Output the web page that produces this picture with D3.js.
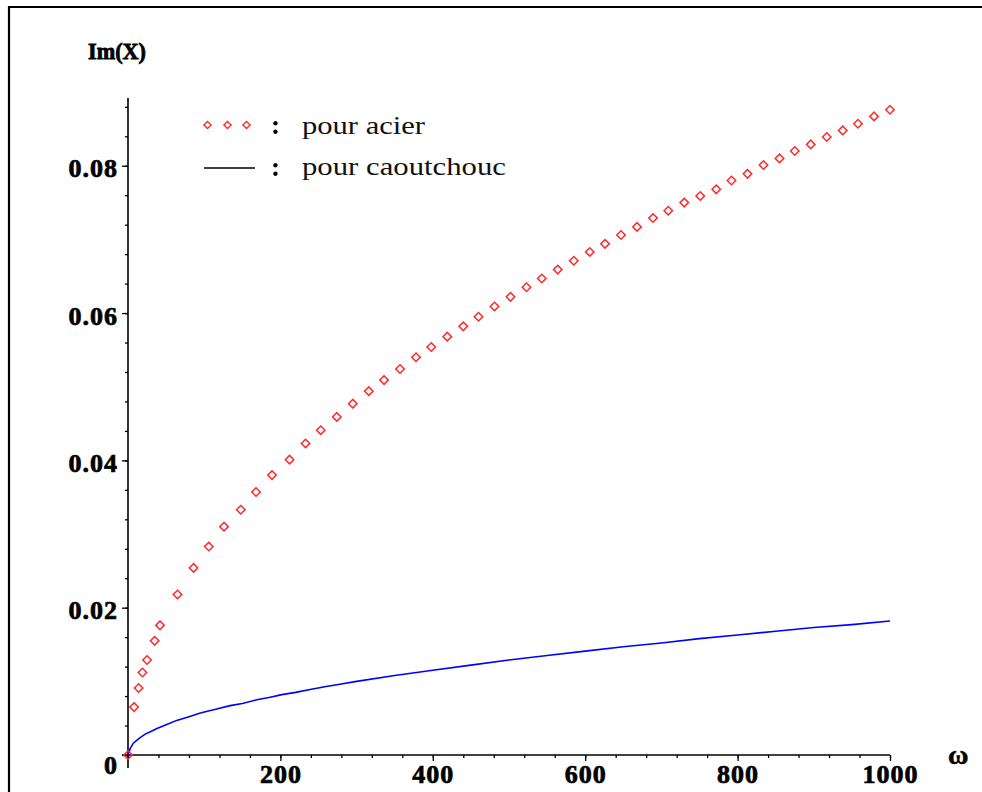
<!DOCTYPE html>
<html><head><meta charset="utf-8">
<script src="https://cdn.jsdelivr.net/npm/d3@7"></script>
<style>body{margin:0;background:#fff} svg{display:block}</style>
</head><body>
<svg id="c" width="982" height="792"></svg>
<script>
// ---- data ----
const acierOmega = [0, 8, 14, 19, 25, 35, 42, 65, 86, 106, 126, 148, 168, 189,
  212, 233, 253, 274, 295, 316, 336, 357, 378, 398, 419, 440, 460, 481, 502, 523,
  543, 564, 585, 606, 626, 647, 668, 689, 709, 730, 751, 772, 792, 813, 834, 855,
  875, 896, 917, 938, 958, 979, 1000];
const acierIm = [0, 0.0065, 0.0091, 0.0112, 0.0129, 0.0155, 0.0176, 0.0218, 0.0254,
  0.0283, 0.0310, 0.0333, 0.0357, 0.0380,
  0.0401, 0.0423, 0.0441, 0.0459, 0.0477, 0.0494, 0.0509, 0.0524, 0.0540, 0.0554,
  0.0568, 0.0582, 0.0595, 0.0609, 0.0622, 0.0635, 0.0647, 0.0659, 0.0671, 0.0683,
  0.0694, 0.0706, 0.0717, 0.0729, 0.0739, 0.0750, 0.0759, 0.0768, 0.0780, 0.0789,
  0.0801, 0.0810, 0.0820, 0.0829, 0.0839, 0.0848, 0.0857, 0.0867, 0.0876];
const caoutOmega = [0, 3, 7, 15, 22, 30, 38, 50, 64, 80, 95, 115, 134, 150, 169, 185,
  202, 220, 239, 260, 278, 300, 350, 400, 450, 500, 550, 600, 650, 700, 750, 800,
  850, 900, 950, 1000];
const caoutIm = [0, 0.0009, 0.0016, 0.0023, 0.0028, 0.0032, 0.0036, 0.0041, 0.0047,
  0.0052, 0.0057, 0.0062, 0.0067, 0.0070, 0.0075, 0.0078, 0.0082, 0.0085, 0.0089,
  0.0093, 0.0096, 0.0100, 0.0108, 0.0115, 0.0122, 0.0129, 0.0135, 0.0141, 0.0147,
  0.0152, 0.0158, 0.0163, 0.0168, 0.0173, 0.0177, 0.0182];
const xTickValues = [200, 400, 600, 800, 1000];
const xTickLabels = ["200", "400", "600", "800", "1000"];
const yTickValues = [0, 0.02, 0.04, 0.06, 0.08];
const yTickLabels = ["0", "0.02", "0.04", "0.06", "0.08"];
const legendLabels = ["pour acier", "pour caoutchouc"];
const yAxisTitle = "Im(X)";
const xAxisTitle = "ω";

// ---- layout ----
const svg = d3.select("#c");
const x = d3.scaleLinear().domain([0, 1000]).range([128, 890]);
const y = d3.scaleLinear().domain([0, 0.0892]).range([755, 98]);
const labelFont = "'Liberation Serif', 'Times New Roman', serif";

// frame
svg.append("path").attr("d", "M9,792 V7 H982")
  .attr("fill", "none").attr("stroke", "#000").attr("stroke-width", 2.2);

// minor ticks
svg.append("g").attr("transform", `translate(${x(0)},0)`)
  .call(d3.axisLeft(y).tickValues(d3.range(0, 0.0892, 0.004)).tickSize(3).tickFormat(""))
  .call(g => g.select(".domain").remove());
svg.append("g").attr("transform", `translate(0,${y(0)})`)
  .call(d3.axisBottom(x).tickValues(d3.range(0, 1001, 40)).tickSize(3).tickFormat(""))
  .call(g => g.select(".domain").remove());

const styleLabel = sel => sel
  .attr("font-family", labelFont).attr("font-weight", "bold")
  .attr("font-size", 26).attr("fill", "#000")
  .attr("stroke", "#000").attr("stroke-width", 0.7)
  .attr("letter-spacing", 1);

// major y axis
const gy = svg.append("g").attr("transform", `translate(${x(0)},0)`)
  .call(d3.axisLeft(y).tickValues(yTickValues).tickFormat((d, i) => yTickLabels[i]).tickSize(6));
gy.select(".domain").remove();
gy.selectAll("text").attr("x", -10).attr("dy", null)
  .attr("y", d => d === 0 ? 18 : 11).call(styleLabel);

// major x axis
const gx = svg.append("g").attr("transform", `translate(0,${y(0)})`)
  .call(d3.axisBottom(x).tickValues(xTickValues).tickFormat((d, i) => xTickLabels[i]).tickSize(6));
gx.select(".domain").remove();
gx.selectAll("text").attr("dy", null).attr("y", 28).call(styleLabel);
svg.selectAll(".tick line").attr("stroke", "#000").attr("stroke-width", 1.3);

// axis lines
svg.append("line").attr("x1", x(0)).attr("x2", x(0)).attr("y1", y.range()[1]).attr("y2", y(0) + 13)
  .attr("stroke", "#000").attr("stroke-width", 1.6);
svg.append("line").attr("x1", x(0) - 6).attr("x2", x(1000)).attr("y1", y(0)).attr("y2", y(0))
  .attr("stroke", "#000").attr("stroke-width", 1.6);

// titles
svg.append("text").attr("x", 88).attr("y", 59).text(yAxisTitle)
  .attr("font-family", labelFont).attr("font-weight", "bold").attr("font-size", 23)
  .attr("stroke", "#000").attr("stroke-width", 0.8)
  .attr("textLength", 58).attr("lengthAdjust", "spacingAndGlyphs");
svg.append("text").attr("x", 948).attr("y", 764).text(xAxisTitle)
  .attr("font-family", labelFont).attr("font-weight", "bold").attr("font-size", 28)
  .attr("stroke", "#000").attr("stroke-width", 0.5);

// caoutchouc line
svg.append("path")
  .datum(caoutOmega.map((w, i) => [w, caoutIm[i]]))
  .attr("d", d3.line().x(d => x(d[0])).y(d => y(d[1])))
  .attr("fill", "none").attr("stroke", "#0000ff").attr("stroke-width", 1.6);

// acier points
const diamond = s => d3.symbol().type(d3.symbolSquare).size(s)();
svg.append("g").selectAll("path")
  .data(acierOmega.map((w, i) => [w, acierIm[i]]))
  .join("path")
  .attr("d", diamond(36))
  .attr("transform", d => `translate(${x(d[0])},${y(d[1])}) rotate(45)`)
  .attr("fill", "none").attr("stroke", "#ff2a2a").attr("stroke-width", 1.5);

// legend
const lg = svg.append("g");
[207.5, 227.5, 246.5].forEach(cx => {
  lg.append("path").attr("d", diamond(26))
    .attr("transform", `translate(${cx},125) rotate(45)`)
    .attr("fill", "none").attr("stroke", "#ff2a2a").attr("stroke-width", 1.4);
});
lg.append("line").attr("x1", 204).attr("x2", 255).attr("y1", 168).attr("y2", 168)
  .attr("stroke", "#000").attr("stroke-width", 1.4);
[134, 176].forEach(by => {
  lg.append("text").attr("x", 271).attr("y", by).text(":")
    .attr("font-family", labelFont).attr("font-weight", "bold").attr("font-size", 27);
});
const legendWidths = [123, 204];
legendLabels.forEach((t, i) => {
  lg.append("text").attr("x", 302).attr("y", [134, 175][i]).text(t)
    .attr("font-family", labelFont).attr("font-size", 25).attr("fill", "#111")
    .attr("textLength", legendWidths[i]).attr("lengthAdjust", "spacingAndGlyphs");
});
</script>
</body></html>
